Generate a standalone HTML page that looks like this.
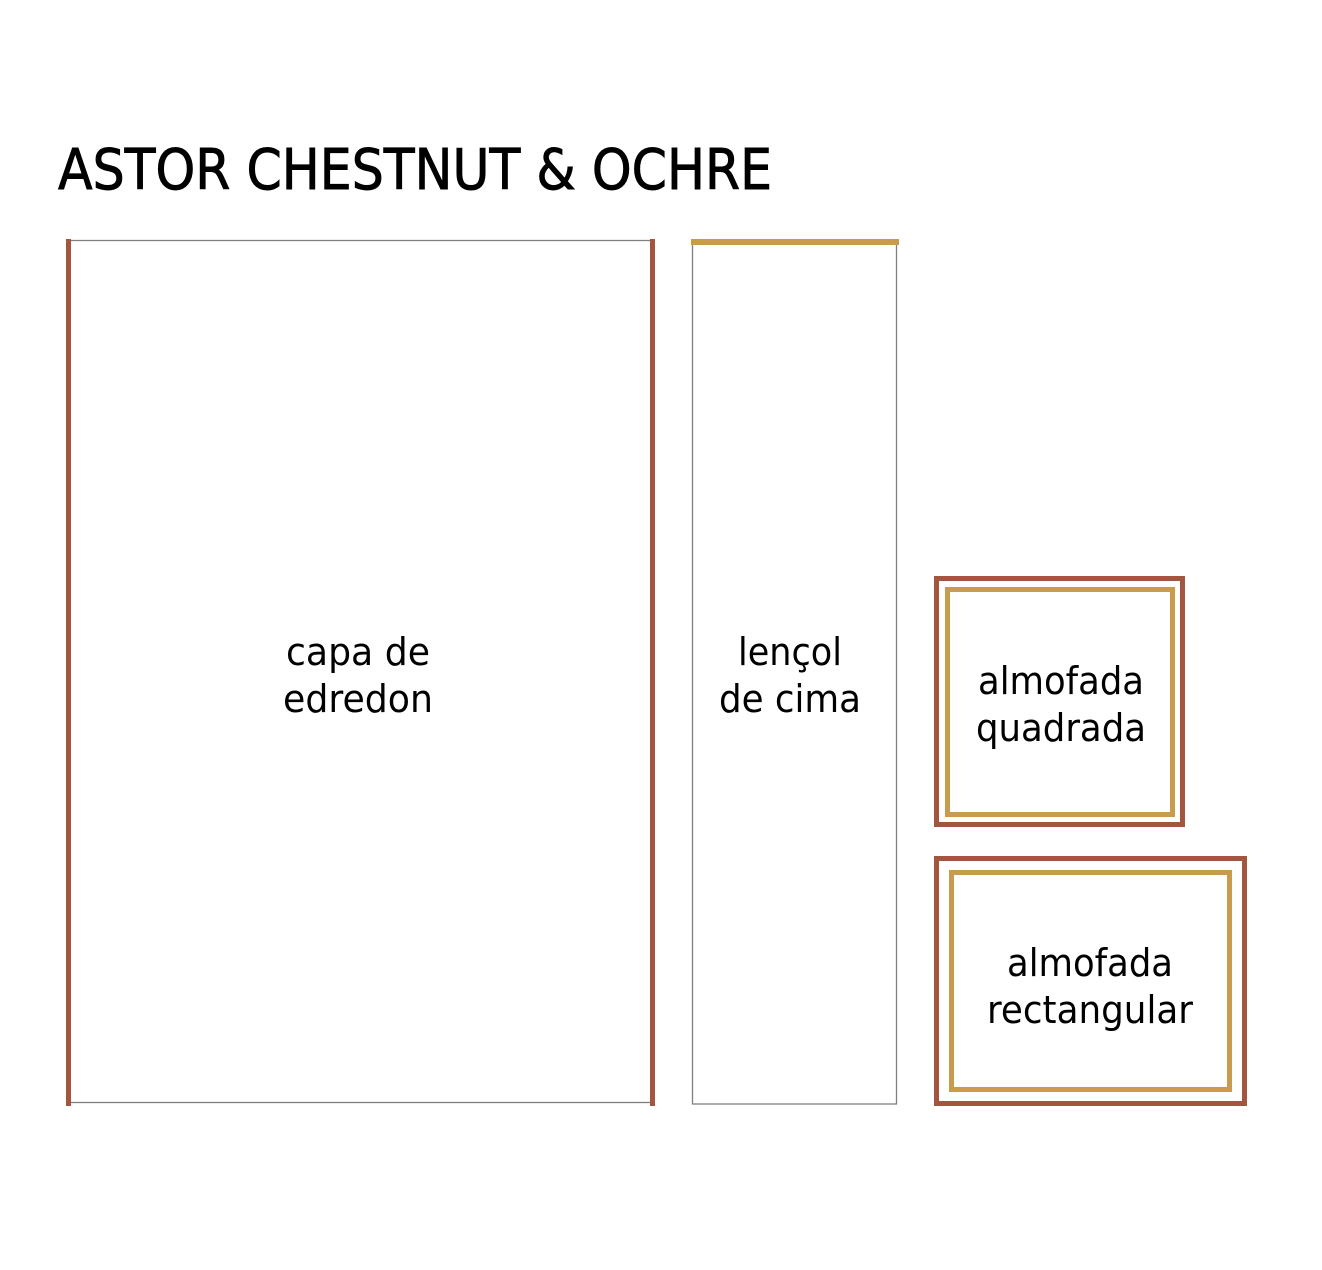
<!DOCTYPE html>
<html><head><meta charset="utf-8"><style>html,body{margin:0;padding:0;background:#fff}</style></head>
<body>
<svg width="1322" height="1270" xmlns="http://www.w3.org/2000/svg" style="display:block">
<rect width="1322" height="1270" fill="#fff"/>
<text x="58" y="189" font-family="DejaVu Sans, Liberation Sans, sans-serif" font-size="56" textLength="714" lengthAdjust="spacingAndGlyphs" fill="#000" stroke="#000" stroke-width="0.9">ASTOR CHESTNUT &amp; OCHRE</text>
<rect x="68.5" y="240.5" width="585" height="862" fill="none" stroke="#7f7f7f" stroke-width="1.3"/>
<rect x="66" y="239" width="5" height="867" fill="#a25640"/>
<rect x="650" y="239" width="5" height="867" fill="#a25640"/>
<rect x="692.5" y="241" width="204" height="863" fill="none" stroke="#7f7f7f" stroke-width="1.3"/>
<rect x="691" y="239" width="208" height="6" fill="#c89c4c"/>
<rect x="936.5" y="578.5" width="246" height="246" fill="none" stroke="#a25640" stroke-width="5"/>
<rect x="947.5" y="589.5" width="225" height="225" fill="none" stroke="#c89c4c" stroke-width="5"/>
<rect x="936.5" y="858.5" width="308" height="245" fill="none" stroke="#a25640" stroke-width="5"/>
<rect x="951.5" y="872.5" width="278" height="217" fill="none" stroke="#c89c4c" stroke-width="5"/>
<g font-family="DejaVu Sans, Liberation Sans, sans-serif" font-size="38" fill="#000" text-anchor="middle">
<text x="358" y="665" textLength="144" lengthAdjust="spacingAndGlyphs">capa de</text><text x="358" y="712" textLength="150" lengthAdjust="spacingAndGlyphs">edredon</text>
<text x="790" y="665" textLength="104" lengthAdjust="spacingAndGlyphs">lençol</text><text x="790" y="712" textLength="142" lengthAdjust="spacingAndGlyphs">de cima</text>
<text x="1061" y="694" textLength="166" lengthAdjust="spacingAndGlyphs">almofada</text><text x="1061" y="741" textLength="170" lengthAdjust="spacingAndGlyphs">quadrada</text>
<text x="1090" y="976" textLength="166" lengthAdjust="spacingAndGlyphs">almofada</text><text x="1090" y="1023" textLength="206" lengthAdjust="spacingAndGlyphs">rectangular</text>
</g>
</svg>
</body></html>
